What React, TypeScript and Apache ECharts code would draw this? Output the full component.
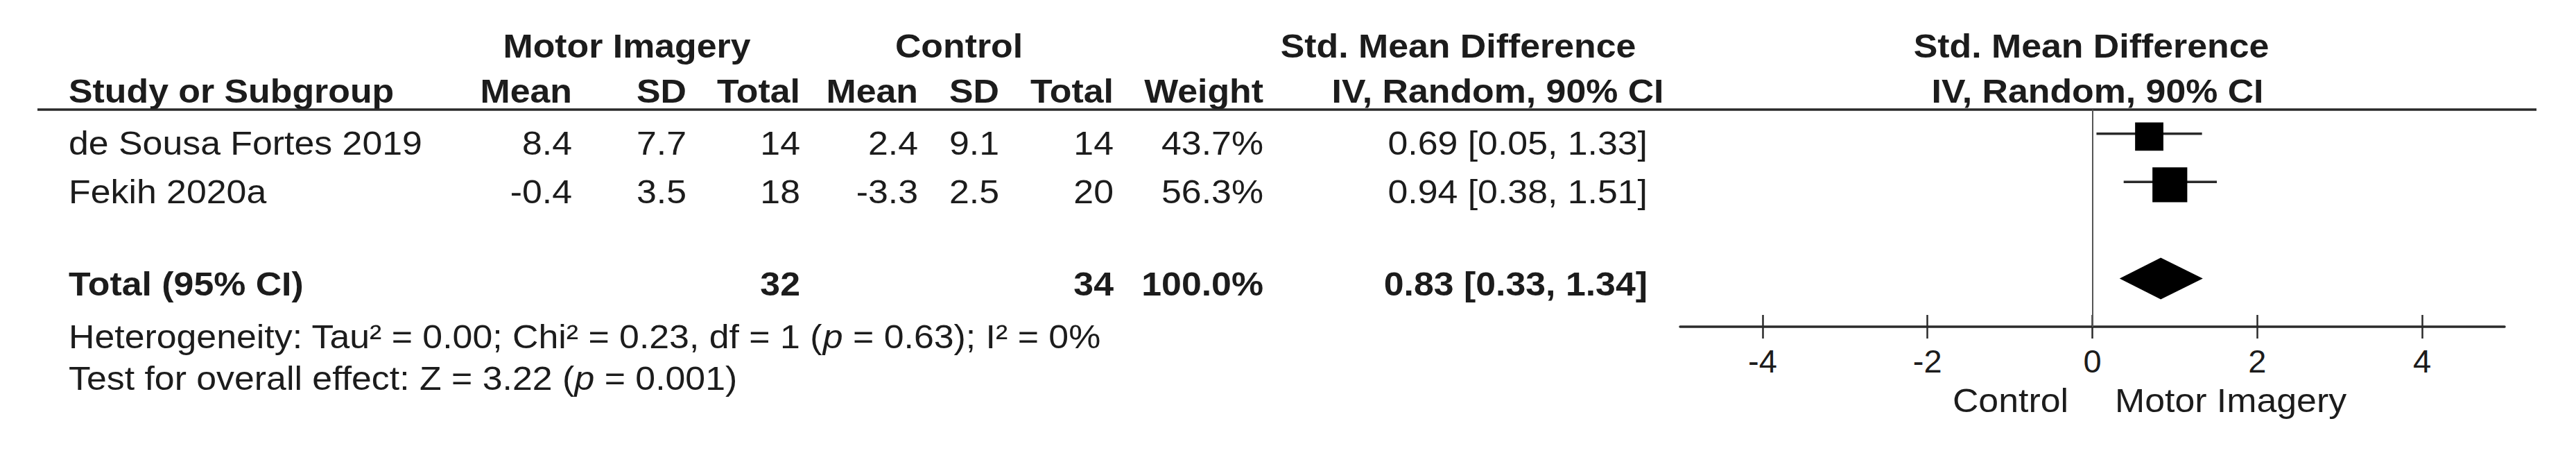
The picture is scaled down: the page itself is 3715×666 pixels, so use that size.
import { useEffect, useRef } from 'react';
import * as echarts from 'echarts';

// ---------- data ----------
const studies = ['de Sousa Fortes 2019', 'Fekih 2020a'];
const miMean = [8.4, -0.4];
const miSD = [7.7, 3.5];
const miTotal = [14, 18];
const ctrlMean = [2.4, -3.3];
const ctrlSD = [9.1, 2.5];
const ctrlTotal = [14, 20];
const weights = [43.7, 56.3];
const smd = [0.69, 0.94];
const ciLow = [0.05, 0.38];
const ciHigh = [1.33, 1.51];

const totalLabel = 'Total (95% CI)';
const totalMI = 32;
const totalCtrl = 34;
const totalWeight = 100.0;
const pooledSmd = 0.83;
const pooledLow = 0.33;
const pooledHigh = 1.34;

const heterogeneity = ['Heterogeneity: Tau² = 0.00; Chi² = 0.23, df = 1 (', 'p', ' = 0.63); I² = 0%'];
const overallEffect = ['Test for overall effect: Z = 3.22 (', 'p', ' = 0.001)'];

const xTicks = [-4, -2, 0, 2, 4];
const xMin = -5;
const xMax = 5;
const favoursLeft = 'Control';
const favoursRight = 'Motor Imagery';

// ---------- layout ----------
const W = 3715;
const H = 666;
const FONT = '"Liberation Sans", Arial, Helvetica, sans-serif';
const FS = 48;
const SX = 1.08;
const INK = '#1c1c1c';

const GRID_LEFT = 2423;
const GRID_RIGHT_EDGE = 3612;
const GRID_TOP = 158;
const AXIS_Y = 471;
const Y_MIN = -0.5;
const Y_MAX = 4;
const PITCH = (AXIS_Y - GRID_TOP) / (Y_MAX - Y_MIN);
const rowY = (i: number) => GRID_TOP + (i - Y_MIN) * PITCH;
const totalRow = studies.length + 1;

function txt(text: string, x: number, y: number, align: string, bold = false) {
  return {
    type: 'text',
    x,
    y,
    scaleX: SX,
    silent: true,
    style: {
      text,
      fill: INK,
      fontSize: FS,
      fontFamily: FONT,
      fontWeight: bold ? 'bold' : 'normal',
      align,
      verticalAlign: 'middle',
    },
  };
}

function richTxt(parts: string[], x: number, y: number) {
  return {
    type: 'text',
    x,
    y,
    scaleX: SX,
    silent: true,
    style: {
      text: parts[0] + '{i|' + parts[1] + '}' + parts[2],
      fill: INK,
      fontSize: FS,
      fontFamily: FONT,
      align: 'left',
      verticalAlign: 'middle',
      rich: {
        i: { fontStyle: 'italic', fontSize: FS, fontFamily: FONT, fill: INK },
      },
    },
  };
}

const ciText = (e: number, l: number, h: number) =>
  `${e.toFixed(2)} [${l.toFixed(2)}, ${h.toFixed(2)}]`;

// column anchors
const COL = {
  study: 99,
  miMean: 825,
  miSD: 990,
  miTotal: 1154,
  ctMean: 1324,
  ctSD: 1441,
  ctTotal: 1606,
  weight: 1822,
  ci: 2376,
};

export default function App() {
  const ref = useRef<HTMLDivElement>(null);

  useEffect(() => {
    if (!ref.current) return;
    const chart = echarts.init(ref.current, undefined, { renderer: 'svg' });

    const H1 = 67;
    const H2 = 132;
    const els: any[] = [];

    // header line 1
    els.push(txt('Motor Imagery', 904, H1, 'center', true));
    els.push(txt('Control', 1383, H1, 'center', true));
    els.push(txt('Std. Mean Difference', 2103, H1, 'center', true));
    els.push(txt('Std. Mean Difference', 3016, H1, 'center', true));
    // header line 2
    els.push(txt('Study or Subgroup', COL.study, H2, 'left', true));
    els.push(txt('Mean', COL.miMean, H2, 'right', true));
    els.push(txt('SD', COL.miSD, H2, 'right', true));
    els.push(txt('Total', COL.miTotal, H2, 'right', true));
    els.push(txt('Mean', COL.ctMean, H2, 'right', true));
    els.push(txt('SD', COL.ctSD, H2, 'right', true));
    els.push(txt('Total', COL.ctTotal, H2, 'right', true));
    els.push(txt('Weight', COL.weight, H2, 'right', true));
    els.push(txt('IV, Random, 90% CI', 2160, H2, 'center', true));
    els.push(txt('IV, Random, 90% CI', 3025, H2, 'center', true));

    // header rule
    els.push({
      type: 'line',
      silent: true,
      shape: { x1: 54, y1: GRID_TOP, x2: 3658, y2: GRID_TOP },
      style: { stroke: '#2a2a2a', lineWidth: 3.5 },
    });

    // study rows
    studies.forEach((s, i) => {
      const y = rowY(i) + 14;
      els.push(txt(s, COL.study, y, 'left'));
      els.push(txt(miMean[i].toFixed(1), COL.miMean, y, 'right'));
      els.push(txt(miSD[i].toFixed(1), COL.miSD, y, 'right'));
      els.push(txt(String(miTotal[i]), COL.miTotal, y, 'right'));
      els.push(txt(ctrlMean[i].toFixed(1), COL.ctMean, y, 'right'));
      els.push(txt(ctrlSD[i].toFixed(1), COL.ctSD, y, 'right'));
      els.push(txt(String(ctrlTotal[i]), COL.ctTotal, y, 'right'));
      els.push(txt(weights[i].toFixed(1) + '%', COL.weight, y, 'right'));
      els.push(txt(ciText(smd[i], ciLow[i], ciHigh[i]), COL.ci, y, 'right'));
    });

    // total row
    const ty = rowY(totalRow) + 8;
    els.push(txt(totalLabel, COL.study, ty, 'left', true));
    els.push(txt(String(totalMI), COL.miTotal, ty, 'right', true));
    els.push(txt(String(totalCtrl), COL.ctTotal, ty, 'right', true));
    els.push(txt(totalWeight.toFixed(1) + '%', COL.weight, ty, 'right', true));
    els.push(txt(ciText(pooledSmd, pooledLow, pooledHigh), COL.ci, ty, 'right', true));

    // footnotes
    els.push(richTxt(heterogeneity, COL.study, 486));
    els.push(richTxt(overallEffect, COL.study, 546));

    // favours labels
    els.push(txt(favoursLeft, 2983, 578, 'right'));
    els.push(txt(favoursRight, 3050, 578, 'left'));

    const studyData = studies.map((_, i) => [smd[i], ciLow[i], ciHigh[i], weights[i], i]);
    const pooledData = [[pooledSmd, pooledLow, pooledHigh, totalRow]];

    const tickAxisCommon = {
      type: 'value',
      min: xMin,
      max: xMax,
      splitLine: { show: false },
    };

    chart.setOption({
      animation: false,
      backgroundColor: '#fff',
      grid: {
        left: GRID_LEFT,
        right: W - GRID_RIGHT_EDGE,
        top: GRID_TOP,
        bottom: H - AXIS_Y,
        containLabel: false,
      },
      xAxis: [
        {
          ...tickAxisCommon,
          position: 'bottom',
          axisLine: { show: true, onZero: false, lineStyle: { color: '#2a2a2a', width: 3.5 } },
          axisTick: {
            show: true,
            inside: false,
            length: 17,
            customValues: xTicks,
            lineStyle: { color: '#2a2a2a', width: 2.5 },
          },
          axisLabel: {
            show: true,
            customValues: xTicks,
            margin: 26,
            color: INK,
            fontSize: 47,
            fontFamily: FONT,
          },
        },
        {
          ...tickAxisCommon,
          position: 'top',
          offset: -(AXIS_Y - GRID_TOP),
          axisLine: { show: false, onZero: false },
          axisTick: {
            show: true,
            inside: false,
            length: 17,
            customValues: xTicks,
            lineStyle: { color: '#2a2a2a', width: 2.5 },
          },
          axisLabel: { show: false },
        },
      ],
      yAxis: {
        type: 'value',
        min: Y_MIN,
        max: Y_MAX,
        inverse: true,
        show: false,
      },
      series: [
        {
          type: 'custom',
          name: 'studies',
          coordinateSystem: 'cartesian2d',
          xAxisIndex: 0,
          encode: { x: [0, 1, 2], y: 4 },
          data: studyData,
          renderItem: (_params: any, api: any) => {
            const r = api.value(4);
            const lo = api.coord([api.value(1), r]);
            const hi = api.coord([api.value(2), r]);
            const c = api.coord([api.value(0), r]);
            const s = 8 + 0.75 * api.value(3);
            return {
              type: 'group',
              children: [
                {
                  type: 'line',
                  shape: { x1: lo[0], y1: lo[1], x2: hi[0], y2: hi[1] },
                  style: { stroke: '#2a2a2a', lineWidth: 3.5 },
                },
                {
                  type: 'rect',
                  shape: { x: c[0] - s / 2, y: c[1] + 4 - s / 2, width: s, height: s },
                  style: { fill: '#000' },
                },
              ],
            };
          },
          markLine: {
            silent: true,
            symbol: 'none',
            label: { show: false },
            lineStyle: { color: '#555', width: 2, type: 'solid' },
            data: [{ xAxis: 0 }],
          },
        },
        {
          type: 'custom',
          name: 'pooled',
          coordinateSystem: 'cartesian2d',
          xAxisIndex: 0,
          encode: { x: [0, 1, 2], y: 3 },
          data: pooledData,
          renderItem: (_params: any, api: any) => {
            const r = api.value(3);
            const lo = api.coord([api.value(1), r]);
            const hi = api.coord([api.value(2), r]);
            const c = api.coord([api.value(0), r]);
            const h = 30;
            return {
              type: 'polygon',
              shape: {
                points: [
                  [lo[0], lo[1]],
                  [c[0], c[1] - h],
                  [hi[0], hi[1]],
                  [c[0], c[1] + h],
                ],
              },
              style: { fill: '#000' },
            };
          },
        },
      ],
      graphic: { elements: els },
    });

    return () => chart.dispose();
  }, []);

  return (
    <div
      ref={ref}
      style={{ position: 'absolute', left: 0, top: 0, width: W, height: H }}
    />
  );
}
